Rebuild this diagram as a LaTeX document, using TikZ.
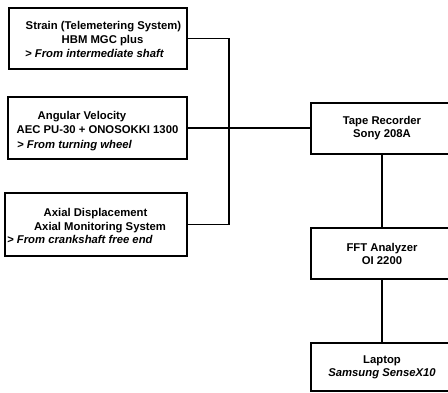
\documentclass[tikz,border=0pt]{standalone}
\usepackage{fontspec}
\setmainfont{Liberation Sans}
\begin{document}
\begin{tikzpicture}[x=1pt,y=-1pt,
  box/.style={draw,line width=1.3pt,inner sep=0pt,rectangle},
  conn/.style={line width=1.3pt},
  txt/.style={inner sep=0pt,font=\fontsize{11.3}{13}\selectfont\bfseries,text height=8pt,text depth=0pt},
  itx/.style={inner sep=0pt,font=\fontsize{11.3}{13}\selectfont\bfseries\itshape,text height=8pt,text depth=0pt},
  rbox/.style={box,minimum width=142pt,align=center,font=\fontsize{11.3}{13}\selectfont\bfseries}]
\useasboundingbox[fill=white] (0,0) rectangle (448,392);
\clip (0,0) rectangle (448,392);
% left boxes
\node[box,minimum width=178pt,minimum height=61pt] (b1) at (98,38.5) {};
\node[txt] (b1a) at (103.5,25) {Strain (Telemetering System)};
\node[txt] (b1b) at (102.5,39) {HBM MGC plus};
\node[itx,anchor=west] (b1c) at (25,53) {> From intermediate shaft};

\node[box,minimum width=179pt,minimum height=62pt] (b2) at (97.5,128) {};
\node[txt] (b2a) at (82,115) {Angular Velocity};
\node[txt] (b2b) at (97.5,129) {AEC PU-30 + ONOSOKKI 1300};
\node[itx,anchor=west] (b2c) at (17,144) {> From turning wheel};

\node[box,minimum width=182pt,minimum height=63pt] (b3) at (96,224.5) {};
\node[txt] (b3a) at (95.5,212) {Axial Displacement};
\node[txt] (b3b) at (100,226) {Axial Monitoring System};
\node[itx,anchor=west] (b3c) at (7,239) {> From crankshaft free end};

% right boxes
\node[rbox,minimum height=51pt] (tape) at (382,128.5) {Tape Recorder\\Sony 208A};
\node[rbox,minimum height=51pt] (fft) at (382,253.5) {FFT Analyzer\\OI 2200};
\node[rbox,minimum height=48pt] (lap) at (382,367) {Laptop\\\textit{Samsung SenseX10}};

% connectors
\coordinate (jx) at (229,0);
\draw[conn] (b1.east) -- (b1.east -| jx) -- (b3.east -| jx) -- (b3.east);
\draw[conn] (b2.east) -- (b2.east -| tape.west);
\draw[conn] (tape.south) -- (fft.north);
\draw[conn] (fft.south) -- (lap.north);
\end{tikzpicture}
\end{document}
